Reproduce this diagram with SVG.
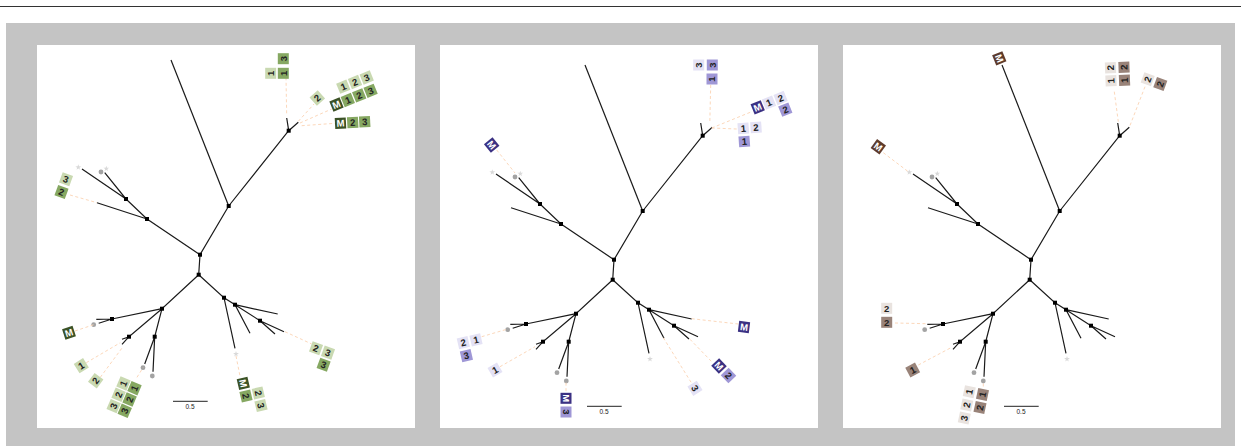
<svg xmlns="http://www.w3.org/2000/svg" xmlns:xlink="http://www.w3.org/1999/xlink" width="1241" height="446" viewBox="0 0 1241 446">
<style>
.e{stroke:#1a1a1a;stroke-width:1.2;fill:none}
.n{fill:#000}
.dl{stroke:#fcd8bb;stroke-width:1;stroke-dasharray:3 2.5;fill:none}
.st{fill:#d9d9d9}
.dot{fill:#a3a3a3}
.g1l{fill:#c9d9b1}.g1m{fill:#86a862}.g1d{fill:#3b5226}
.p2l{fill:#e4e2f5}.p2m{fill:#9f97d6}.p2d{fill:#3b3183}
.b3l{fill:#e9e3df}.b3m{fill:#998379}.b3d{fill:#5e3b2c}
text.t{font-family:"Liberation Sans",Arial,sans-serif;font-weight:bold;font-size:9.5px;text-anchor:middle;fill:#222}
text.w{fill:#fff}
text.s{font-family:"Liberation Sans",Arial,sans-serif;font-size:6.5px;text-anchor:middle;fill:#222}
</style>
<defs>
<path id="star" d="M0,-3 L0.7,-1 L2.9,-0.9 L1.1,0.4 L1.8,2.4 L0,1.2 L-1.8,2.4 L-1.1,0.4 L-2.9,-0.9 L-0.7,-1 Z"/>
<rect id="bx" x="-5.5" y="-5.5" width="11" height="11"/>
<g id="tree">
<g class="e">
<path d="M228.7,206 L171,60"/>
<path d="M228.7,206 L288.7,130.7 L286.7,118 M288.7,130.7 L298.3,122.3"/>
<path d="M228.7,206 L200,254.7 L198.7,274.7"/>
<path d="M200,254.7 L147,219 L126,199 L82,169 M126,199 L104.7,172.7 M147,219 L97,202.7"/>
<path d="M198.7,274.7 L162,308.7 L112,319 L96.3,319.3 M112,319 L98.7,323.3"/>
<path d="M162,308.7 L129,336.7 L122,339.3 M129,336.7 L122,344.3"/>
<path d="M162,308.7 L154.7,336.7 L144.7,364 M154.7,336.7 L153,371.7"/>
<path d="M198.7,274.7 L224,297.7 L235,348.3 M224,297.7 L235,304.7 L250,333.3 M235,304.7 L277.7,314 M235,304.7 L260,320.7 L284,331.7 M260,320.7 L275,334"/>
</g>
<g class="n">
<rect x="226.7" y="204" width="4" height="4"/>
<rect x="286.7" y="128.7" width="4" height="4"/>
<rect x="198" y="252.7" width="4" height="4"/>
<rect x="196.7" y="272.7" width="4" height="4"/>
<rect x="145" y="217" width="4" height="4"/>
<rect x="124" y="197" width="4" height="4"/>
<rect x="160" y="306.7" width="4" height="4"/>
<rect x="110" y="317" width="4" height="4"/>
<rect x="127" y="334.7" width="4" height="4"/>
<rect x="152.7" y="334.7" width="4" height="4"/>
<rect x="222" y="295.7" width="4" height="4"/>
<rect x="233" y="302.7" width="4" height="4"/>
<rect x="258" y="318.7" width="4" height="4"/>
</g>
<use href="#star" class="st" x="78.3" y="167.3"/>
<use href="#star" class="st" x="106.3" y="168.7"/>
<use href="#star" class="st" x="236" y="354"/>
<circle class="dot" cx="101" cy="172" r="2.4"/>
<circle class="dot" cx="93.7" cy="324.7" r="2.4"/>
<circle class="dot" cx="143" cy="367.7" r="2.4"/>
<circle class="dot" cx="152.3" cy="376" r="2.4"/>
<path d="M173,401.3 H207.7" stroke="#222" stroke-width="1"/>
<text class="s" x="190" y="409">0.5</text>
</g>
</defs>

<rect width="1241" height="446" fill="#fff"/>
<path d="M0,6.5 H1241" stroke="#333" stroke-width="1"/>
<rect x="6" y="23" width="1229" height="423" fill="#c4c4c4"/>
<rect x="37" y="45" width="378" height="383" fill="#fff"/>
<rect x="440" y="45" width="378" height="383" fill="#fff"/>
<rect x="843" y="45" width="378" height="383" fill="#fff"/>

<!-- Panel 1 -->
<g id="panel1">
<use href="#tree"/>
<g id="p1-connectors" class="dl">
<path d="M286,77.3 L286.7,115.7"/>
<path d="M298.3,121.3 L314,104"/>
<path d="M300,123 L331.7,109"/>
<path d="M301.7,125.7 L335,123.3"/>
<path d="M70,195 L97,202.7"/>
<path d="M75,331 L93.7,324.7"/>
<path d="M86.3,362.7 L120.3,342.7"/>
<path d="M100.3,377.3 L123,346.7"/>
<path d="M137,377.3 L143,367.7"/>
<path d="M285,331.7 L311.7,344"/>
<path d="M236,356 L240,376"/>
</g>
<g id="p1-top">
<g transform="translate(283.3,58.7) rotate(-90)"><use href="#bx" class="g1m"/><text class="t" y="3.4">3</text></g>
<g transform="translate(270.7,73.3) rotate(-90)"><use href="#bx" class="g1l"/><text class="t" y="3.4">1</text></g>
<g transform="translate(283.3,73.3) rotate(-90)"><use href="#bx" class="g1m"/><text class="t" y="3.4">1</text></g>
</g>
<g id="p1-two">
<g transform="translate(317.3,98) rotate(-42)"><use href="#bx" class="g1l"/><text class="t" y="3.4">2</text></g>
</g>
<g id="p1-grid">
<g transform="translate(343.3,86.7) rotate(-22)"><use href="#bx" class="g1l"/><text class="t" y="3.4">1</text></g>
<g transform="translate(355,82) rotate(-22)"><use href="#bx" class="g1l"/><text class="t" y="3.4">2</text></g>
<g transform="translate(366.7,77.5) rotate(-22)"><use href="#bx" class="g1l"/><text class="t" y="3.4">3</text></g>
<g transform="translate(336.5,104.5) rotate(-22)"><use href="#bx" class="g1d"/><text class="t w" y="3.4">M</text></g>
<g transform="translate(347.8,100) rotate(-22)"><use href="#bx" class="g1m"/><text class="t" y="3.4">1</text></g>
<g transform="translate(359.2,95.4) rotate(-22)"><use href="#bx" class="g1m"/><text class="t" y="3.4">2</text></g>
<g transform="translate(370.6,90.8) rotate(-22)"><use href="#bx" class="g1m"/><text class="t" y="3.4">3</text></g>
</g>
<g id="p1-m23">
<g transform="translate(340.5,123.2) rotate(-3)"><use href="#bx" class="g1d"/><text class="t w" y="3.4">M</text></g>
<g transform="translate(352.7,122.5) rotate(-3)"><use href="#bx" class="g1m"/><text class="t" y="3.4">2</text></g>
<g transform="translate(364.7,121.8) rotate(-3)"><use href="#bx" class="g1m"/><text class="t" y="3.4">3</text></g>
</g>
<g id="p1-left">
<g transform="translate(66,179.3) rotate(20)"><use href="#bx" class="g1l"/><text class="t" y="3.4">3</text></g>
<g transform="translate(61.5,192) rotate(20)"><use href="#bx" class="g1m"/><text class="t" y="3.4">2</text></g>
</g>
<g id="p1-m">
<g transform="translate(69,332.7) rotate(-18)"><use href="#bx" class="g1d"/><text class="t w" y="3.4">M</text></g>
</g>
<g id="p1-one">
<g transform="translate(81.3,365.7) rotate(-32)"><use href="#bx" class="g1l"/><text class="t" y="3.4">1</text></g>
</g>
<g id="p1-twob">
<g transform="translate(95.7,380.7) rotate(-53)"><use href="#bx" class="g1l"/><text class="t" y="3.4">2</text></g>
</g>
<g id="p1-bgrid">
<g transform="translate(123.5,383.5) rotate(-67)"><use href="#bx" class="g1l"/><text class="t" y="3.4">1</text></g>
<g transform="translate(118.6,394.8) rotate(-67)"><use href="#bx" class="g1l"/><text class="t" y="3.4">2</text></g>
<g transform="translate(113.7,406.1) rotate(-67)"><use href="#bx" class="g1l"/><text class="t" y="3.4">3</text></g>
<g transform="translate(134.5,388.2) rotate(-67)"><use href="#bx" class="g1m"/><text class="t" y="3.4">1</text></g>
<g transform="translate(129.6,399.5) rotate(-67)"><use href="#bx" class="g1m"/><text class="t" y="3.4">2</text></g>
<g transform="translate(124.7,410.8) rotate(-67)"><use href="#bx" class="g1m"/><text class="t" y="3.4">3</text></g>
</g>
<g id="p1-br">
<g transform="translate(243.3,383.3) rotate(77)"><use href="#bx" class="g1d"/><text class="t w" y="3.4">M</text></g>
<g transform="translate(246,396) rotate(77)"><use href="#bx" class="g1m"/><text class="t" y="3.4">2</text></g>
<g transform="translate(258.3,393) rotate(77)"><use href="#bx" class="g1l"/><text class="t" y="3.4">2</text></g>
<g transform="translate(261,405.5) rotate(77)"><use href="#bx" class="g1l"/><text class="t" y="3.4">3</text></g>
</g>
<g id="p1-right">
<g transform="translate(316,348.3) rotate(20)"><use href="#bx" class="g1l"/><text class="t" y="3.4">2</text></g>
<g transform="translate(328,352.6) rotate(20)"><use href="#bx" class="g1l"/><text class="t" y="3.4">3</text></g>
<g transform="translate(323.6,364.7) rotate(20)"><use href="#bx" class="g1m"/><text class="t" y="3.4">3</text></g>
</g>
</g>

<!-- Panel 2 -->
<g id="panel2">
<use href="#tree" transform="translate(414,5)"/>
<g id="p2-connectors" class="dl">
<path d="M496.7,150 L515,173"/>
<path d="M710.7,85 L709.8,122.7"/>
<path d="M711.7,128 L751.7,111.7"/>
<path d="M711.7,128 L736.7,129"/>
<path d="M481.7,336.7 L506.7,329.3"/>
<path d="M500,366.7 L535,346.7"/>
<path d="M566,382.7 L566,392.5"/>
<path d="M691.7,318.7 L738.3,324"/>
<path d="M690,339.3 L711.7,361.7"/>
<path d="M663.3,337.7 L691.7,383.3"/>
</g>
<g id="p2-top">
<g transform="translate(698.7,65) rotate(-90)"><use href="#bx" class="p2l"/><text class="t" y="3.4">3</text></g>
<g transform="translate(712.3,65) rotate(-90)"><use href="#bx" class="p2m"/><text class="t" y="3.4">3</text></g>
<g transform="translate(712,79) rotate(-90)"><use href="#bx" class="p2m"/><text class="t" y="3.4">1</text></g>
</g>
<g id="p2-m12">
<g transform="translate(757.7,107.3) rotate(-22)"><use href="#bx" class="p2d"/><text class="t w" y="3.4">M</text></g>
<g transform="translate(769,102.6) rotate(-22)"><use href="#bx" class="p2l"/><text class="t" y="3.4">1</text></g>
<g transform="translate(780.6,98) rotate(-22)"><use href="#bx" class="p2l"/><text class="t" y="3.4">2</text></g>
<g transform="translate(785.3,109.6) rotate(-22)"><use href="#bx" class="p2m"/><text class="t" y="3.4">2</text></g>
</g>
<g id="p2-12">
<g transform="translate(743.3,128.3) rotate(-4)"><use href="#bx" class="p2l"/><text class="t" y="3.4">1</text></g>
<g transform="translate(756,127.4) rotate(-4)"><use href="#bx" class="p2l"/><text class="t" y="3.4">2</text></g>
<g transform="translate(744.3,141.5) rotate(-4)"><use href="#bx" class="p2m"/><text class="t" y="3.4">1</text></g>
</g>
<g id="p2-mleft">
<g transform="translate(491.7,145) rotate(51)"><use href="#bx" class="p2d"/><text class="t w" y="3.4">M</text></g>
</g>
<g id="p2-213">
<g transform="translate(463.3,342.7) rotate(-13)"><use href="#bx" class="p2l"/><text class="t" y="3.4">2</text></g>
<g transform="translate(476,339.8) rotate(-13)"><use href="#bx" class="p2l"/><text class="t" y="3.4">1</text></g>
<g transform="translate(466.4,355.6) rotate(-13)"><use href="#bx" class="p2m"/><text class="t" y="3.4">3</text></g>
</g>
<g id="p2-one">
<g transform="translate(495,370) rotate(-30)"><use href="#bx" class="p2l"/><text class="t" y="3.4">1</text></g>
</g>
<g id="p2-m3">
<g transform="translate(566,398.3) rotate(90)"><use href="#bx" class="p2d"/><text class="t w" y="3.4">M</text></g>
<g transform="translate(566,412) rotate(90)"><use href="#bx" class="p2m"/><text class="t" y="3.4">3</text></g>
</g>
<g id="p2-mr">
<g transform="translate(744,327) rotate(7)"><use href="#bx" class="p2d"/><text class="t w" y="3.4">M</text></g>
</g>
<g id="p2-m2">
<g transform="translate(719,366) rotate(46)"><use href="#bx" class="p2d"/><text class="t w" y="3.4">M</text></g>
<g transform="translate(728.5,375.5) rotate(46)"><use href="#bx" class="p2m"/><text class="t" y="3.4">2</text></g>
</g>
<g id="p2-three">
<g transform="translate(695,388.3) rotate(58)"><use href="#bx" class="p2l"/><text class="t" y="3.4">3</text></g>
</g>
</g>

<!-- Panel 3 -->
<g id="panel3">
<use href="#tree" transform="translate(831,5)"/>
<g id="p3-connectors" class="dl">
<path d="M883.3,152.7 L908.3,171.7"/>
<path d="M1114.3,91.7 L1118.3,121.7"/>
<path d="M1145,86.7 L1129.3,127.3"/>
<path d="M895,323 L926.7,323.7"/>
<path d="M918.3,365 L951.7,347.3"/>
<path d="M983.3,383.5 L983.3,389"/>
</g>
<g id="p3-mtop">
<g transform="translate(999.3,58.3) rotate(68)"><use href="#bx" class="b3d"/><text class="t w" y="3.4">M</text></g>
</g>
<g id="p3-mleft">
<g transform="translate(878.3,146.7) rotate(36)"><use href="#bx" class="b3d"/><text class="t w" y="3.4">M</text></g>
</g>
<g id="p3-grid">
<g transform="translate(1110.5,67.8) rotate(-92)"><use href="#bx" class="b3l"/><text class="t" y="3.4">2</text></g>
<g transform="translate(1124,67.3) rotate(-92)"><use href="#bx" class="b3m"/><text class="t" y="3.4">2</text></g>
<g transform="translate(1111,80.7) rotate(-92)"><use href="#bx" class="b3l"/><text class="t" y="3.4">1</text></g>
<g transform="translate(1124.5,80.2) rotate(-92)"><use href="#bx" class="b3m"/><text class="t" y="3.4">1</text></g>
</g>
<g id="p3-22">
<g transform="translate(1147.7,79.3) rotate(-70)"><use href="#bx" class="b3l"/><text class="t" y="3.4">2</text></g>
<g transform="translate(1160.3,84) rotate(-70)"><use href="#bx" class="b3m"/><text class="t" y="3.4">2</text></g>
</g>
<g id="p3-22b">
<g transform="translate(886.7,308.3)"><use href="#bx" class="b3l"/><text class="t" y="3.4">2</text></g>
<g transform="translate(886.7,322.3)"><use href="#bx" class="b3m"/><text class="t" y="3.4">2</text></g>
</g>
<g id="p3-one">
<g transform="translate(912.7,370) rotate(-28)"><use href="#bx" class="b3m"/><text class="t" y="3.4">1</text></g>
</g>
<g id="p3-bgrid">
<g transform="translate(969.3,391.7) rotate(-78)"><use href="#bx" class="b3l"/><text class="t" y="3.4">1</text></g>
<g transform="translate(966.8,404.9) rotate(-78)"><use href="#bx" class="b3l"/><text class="t" y="3.4">2</text></g>
<g transform="translate(964.3,418.1) rotate(-78)"><use href="#bx" class="b3l"/><text class="t" y="3.4">3</text></g>
<g transform="translate(982.5,394.4) rotate(-78)"><use href="#bx" class="b3m"/><text class="t" y="3.4">1</text></g>
<g transform="translate(980,407.6) rotate(-78)"><use href="#bx" class="b3m"/><text class="t" y="3.4">2</text></g>
</g>
</g>
</svg>
